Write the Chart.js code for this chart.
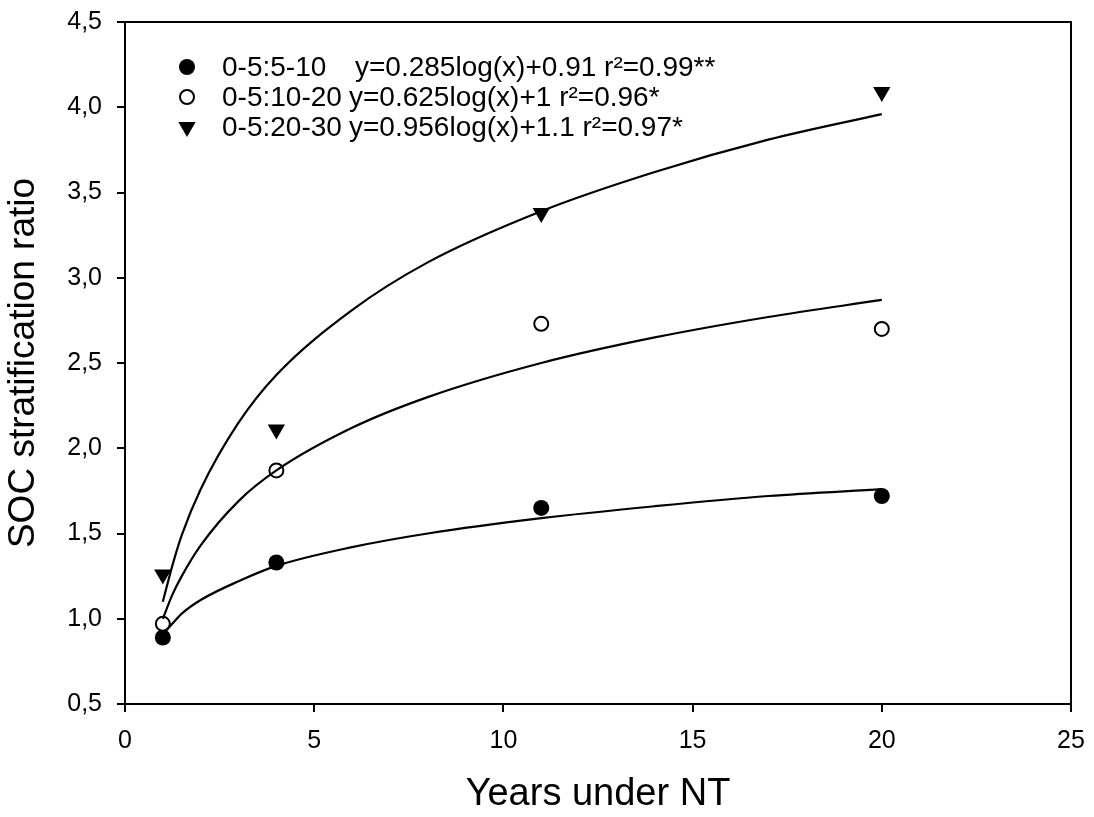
<!DOCTYPE html>
<html>
<head>
<meta charset="utf-8">
<script src="https://cdn.jsdelivr.net/npm/chart.js@4/dist/chart.umd.min.js"></script>
<style>
  html, body { margin: 0; padding: 0; background: #fff; }
  #wrap { width: 1094px; height: 817px; position: relative; }
</style>
</head>
<body>
<div id="wrap"><canvas id="c"></canvas></div>
<script>
// ---- data ----
const years = [1, 4, 11, 20];
const ratio5_10 = [0.89, 1.33, 1.65, 1.72];
const ratio10_20 = [0.97, 1.87, 2.73, 2.70];
const ratio20_30 = [1.26, 2.11, 3.38, 4.09];

// fitted curves
const fitX = [1, 1.25, 1.5, 2, 3, 4, 6, 8, 11, 14, 17, 20];
const fit5_10 = [0.91, 0.97, 1.03, 1.11, 1.22, 1.31, 1.42, 1.50, 1.59, 1.66, 1.72, 1.76];
const fit10_20 = [1.00, 1.14, 1.25, 1.43, 1.69, 1.87, 2.12, 2.30, 2.50, 2.65, 2.77, 2.87];
const fit20_30 = [1.10, 1.31, 1.49, 1.76, 2.15, 2.43, 2.81, 3.09, 3.39, 3.62, 3.81, 3.96];

const seriesNames = ['0-5:5-10', '0-5:10-20', '0-5:20-30'];
const equations = ['y=0.285log(x)+0.91 r\u00B2=0.99**', 'y=0.625log(x)+1 r\u00B2=0.96*', 'y=0.956log(x)+1.1 r\u00B2=0.97*'];

const xTicks = ['0', '5', '10', '15', '20', '25'];
const yTicks = ['0,5', '1,0', '1,5', '2,0', '2,5', '3,0', '3,5', '4,0', '4,5'];

const xTitle = 'Years under NT';
const yTitle = 'SOC stratification ratio';

const pts = (xs, ys) => xs.map((x, i) => ({ x: x, y: ys[i] }));

const FONT = "'Liberation Sans', Arial, sans-serif";

const frame = {
  id: 'frame',
  beforeDatasetsDraw(chart) {
    const { ctx, chartArea: a } = chart;
    ctx.save();
    ctx.strokeStyle = '#000';
    ctx.lineWidth = 2;
    ctx.strokeRect(a.left, a.top, a.right - a.left, a.bottom - a.top);
    ctx.restore();
  }
};

function marker(ctx, kind, x, y) {
  ctx.save();
  ctx.fillStyle = '#000';
  ctx.strokeStyle = '#000';
  ctx.lineWidth = 2;
  if (kind === 0) {
    ctx.beginPath(); ctx.arc(x, y, 8, 0, Math.PI * 2); ctx.fill();
  } else if (kind === 1) {
    ctx.beginPath(); ctx.arc(x, y, 7, 0, Math.PI * 2);
    ctx.fillStyle = '#fff'; ctx.fill(); ctx.stroke();
  } else {
    const r = 10;
    ctx.beginPath();
    ctx.moveTo(x - r * 0.866, y - r * 0.5);
    ctx.lineTo(x + r * 0.866, y - r * 0.5);
    ctx.lineTo(x, y + r);
    ctx.closePath(); ctx.fill();
  }
  ctx.restore();
}

const legendPlugin = {
  id: 'customLegend',
  afterDraw(chart) {
    const ctx = chart.ctx;
    const rowsY = [67, 97, 127];
    const eqX = [355, 349, 349];
    ctx.save();
    ctx.fillStyle = '#000';
    ctx.font = '28px ' + FONT;
    ctx.textBaseline = 'middle';
    ctx.textAlign = 'left';
    for (let i = 0; i < 3; i++) {
      marker(ctx, i, 187, rowsY[i]);
      ctx.fillText(seriesNames[i], 222, rowsY[i] + 1);
      ctx.fillText(equations[i], eqX[i], rowsY[i] + 1);
    }
    ctx.restore();
  }
};

const lineDs = (ys) => ({
  type: 'line',
  data: pts(fitX, ys),
  borderColor: '#000',
  borderWidth: 2.2,
  pointRadius: 0,
  fill: false,
  cubicInterpolationMode: 'monotone',
  order: 0
});

new Chart(document.getElementById('c'), {
  type: 'scatter',
  data: {
    datasets: [
      lineDs(fit5_10),
      lineDs(fit10_20),
      lineDs(fit20_30),
      {
        label: seriesNames[1], data: pts(years, ratio10_20),
        pointStyle: 'circle', pointRadius: 7, pointBackgroundColor: '#fff',
        pointBorderColor: '#000', pointBorderWidth: 2, order: 1
      },
      {
        label: seriesNames[0], data: pts(years, ratio5_10),
        pointStyle: 'circle', pointRadius: 8, pointBackgroundColor: '#000',
        pointBorderColor: '#000', pointBorderWidth: 0, order: 2
      },
      {
        label: seriesNames[2], data: pts(years, ratio20_30),
        pointStyle: 'triangle', rotation: 180, pointRadius: 10, pointBackgroundColor: '#000',
        pointBorderColor: '#000', pointBorderWidth: 0, order: 1
      }
    ]
  },
  options: {
    responsive: true,
    maintainAspectRatio: false,
    animation: false,
    events: [],
    layout: { padding: { top: 22, right: 23, bottom: 0, left: 0 } },
    plugins: { legend: { display: false }, tooltip: { enabled: false } },
    scales: {
      x: {
        type: 'linear', min: 0, max: 25,
        afterFit(s) { s.height = 113; s.paddingLeft = 0; s.paddingRight = 0; },
        ticks: {
          stepSize: 5, color: '#000', padding: 14,
          font: { family: FONT, size: 25 },
          callback: (v, i) => xTicks[i]
        },
        grid: { drawOnChartArea: false, drawTicks: true, tickLength: 8, color: '#000', lineWidth: 2 },
        border: { display: true, color: '#000', width: 2 },
        title: { display: true, text: xTitle, color: '#000', font: { family: FONT, size: 38 }, padding: { top: 0, bottom: 0 } }
      },
      y: {
        type: 'linear', min: 0.5, max: 4.5,
        afterFit(s) { s.width = 125; s.paddingTop = 0; s.paddingBottom = 0; },
        ticks: {
          stepSize: 0.5, color: '#000', padding: 15,
          font: { family: FONT, size: 25 },
          callback: (v, i) => yTicks[i]
        },
        grid: { drawOnChartArea: false, drawTicks: true, tickLength: 8, color: '#000', lineWidth: 2 },
        border: { display: true, color: '#000', width: 2 },
        title: { display: true, text: yTitle, color: '#000', font: { family: FONT, size: 37 }, padding: { top: 2, bottom: 0 } }
      }
    }
  },
  plugins: [frame, legendPlugin]
});
</script>
</body>
</html>
